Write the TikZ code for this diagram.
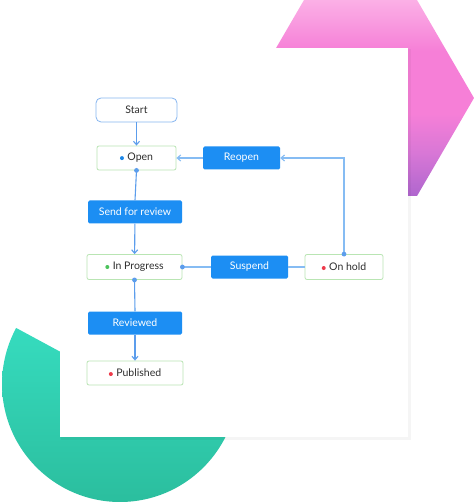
\documentclass[tikz,border=0pt]{standalone}
\usepackage{fontspec}
\setmainfont{Lato}
\usetikzlibrary{arrows.meta,shadows}
\definecolor{actblue}{HTML}{1C8EF3}
\definecolor{startborder}{HTML}{86B6F0}
\definecolor{stateborder}{HTML}{B9E5B3}
\definecolor{lineblue}{HTML}{5C9DEC}
\definecolor{lightline}{HTML}{86BCF3}
\definecolor{txt}{HTML}{2E2E2E}
\definecolor{dotblue}{HTML}{1E88E8}
\definecolor{dotgreen}{HTML}{4CC35C}
\definecolor{dotred}{HTML}{EE3B4B}
\definecolor{pinktop}{HTML}{FBB0E6}
\definecolor{pinkmid}{HTML}{F67FD7}
\definecolor{pinklow}{HTML}{D877D6}
\definecolor{pinkbot}{HTML}{AF66CE}
\definecolor{greentop}{HTML}{3AE6CA}
\definecolor{greenmid}{HTML}{3DE2A0}
\definecolor{greenbot}{HTML}{2BBE9E}
\pgfdeclareverticalshading{pinkshade}{100bp}{color(0bp)=(pinkbot); color(25bp)=(pinkbot);
  color(36bp)=(pinklow); color(46bp)=(pinkmid); color(62bp)=(pinkmid); color(75bp)=(pinktop); color(100bp)=(pinktop)}
\newcommand{\sdot}[1]{\tikz[baseline=-2.8pt]\fill[#1] (0,0) circle (2pt);\hspace{3.5pt}}
\begin{document}
\begin{tikzpicture}[x=1pt,y=-1pt,
  font=\fontsize{10.5}{12}\selectfont,
  statebox/.style={draw=stateborder,fill=white,line width=0.8pt,rounded corners=2pt,
    minimum height=24pt,text=txt,inner sep=0pt},
  startbox/.style={draw=startborder,fill=white,line width=0.8pt,rounded corners=5pt,
    minimum width=81pt,minimum height=24pt,text=txt,inner sep=0pt},
  actbox/.style={fill=actblue,rounded corners=1.5pt,minimum height=23pt,
    text=white,inner sep=0pt},
  flow/.style={draw=lineblue,line width=1.1pt},
  sideflow/.style={draw=lightline,line width=1.1pt},
  chev/.style={-{Straight Barb[length=3.5pt,width=6pt,line width=1.1pt]}},
  pin/.style={fill=lineblue}
]
\useasboundingbox (0,0) rectangle (474,502);
% pink hexagon
\shade[shading=pinkshade]
  (304,0) -- (417,0) -- (474,98) -- (417,196) -- (304,196) -- (247,98) -- cycle;
% green pie
\begin{scope}
  \clip (120,384) -- (-56,289) -- (-56,600) -- (300,600) -- (300,150) -- (120,150) -- cycle;
  \shade[top color=greentop,middle color=greenmid,bottom color=greenbot]
    (120,384) circle[radius=118];
\end{scope}
% card
\fill[black,opacity=0.04] (61,49) rectangle (411,440);
\fill[white] (60,48) rectangle (408,437);
% nodes
\node[startbox] (start) at (136.5,110) {Start};
\node[statebox,minimum width=79pt] (open) at (136.5,158) {\sdot{dotblue}Open};
\node[actbox,minimum width=77pt] (reopen) at (241.5,158) {Reopen};
\node[actbox,minimum width=94pt] (send) at (135,212) {Send for review};
\node[statebox,minimum width=95pt,minimum height=25pt] (prog) at (134.5,267) {\sdot{dotgreen}In Progress};
\node[actbox,minimum width=77pt] (susp) at (249.5,267) {Suspend};
\node[statebox,minimum width=78pt,minimum height=25pt] (hold) at (344,267) {\sdot{dotred}On hold};
\node[actbox,minimum width=94pt] (rev) at (135,323) {Reviewed};
\node[statebox,minimum width=96pt] (pub) at (135,373) {\sdot{dotred}Published};
% connectors
\draw[flow,chev] (start) -- (open);
\draw[flow] (open.south) -- (send.north);
\draw[flow,chev] (send) -- (prog);
\draw[flow] (prog.south) -- (rev.north);
\draw[flow,chev] (rev) -- (pub);
\draw[sideflow] (prog.east) -- (susp.west);
\draw[sideflow] (susp.east) -- (hold.west);
\draw[sideflow,chev] (hold.north) |- (reopen.east);
\draw[sideflow,chev] (reopen.west) -- (open.east);
\fill[pin] (open.south) circle[radius=2.4];
\fill[pin] (prog.south) circle[radius=2.4];
\fill[pin] (prog.east) circle[radius=2.4];
\fill[pin] (hold.north) circle[radius=2.4];
\end{tikzpicture}
\end{document}
